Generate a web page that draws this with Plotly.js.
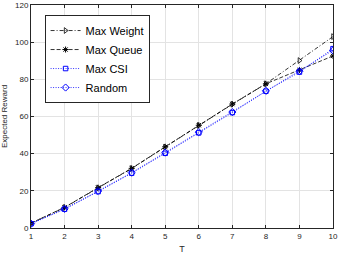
<!DOCTYPE html>
<html>
<head>
<meta charset="utf-8">
<script src="https://cdn.plot.ly/plotly-3.0.1.min.js"></script>
<style>html,body{margin:0;padding:0;background:#fff;}#chart{width:338px;height:254px;}</style>
</head>
<body>
<div id="chart"></div>
<script>
const T = [1, 2, 3, 4, 5, 6, 7, 8, 9, 10];
const maxWeight = [2.6, 11.0, 21.6, 32.0, 43.6, 55.2, 66.6, 77.6, 90.1, 103.0];
const maxQueue  = [2.6, 11.1, 21.7, 32.1, 43.7, 55.3, 66.7, 77.6, 85.0, 92.6];
const maxCSI    = [2.3, 10.1, 19.6, 29.5, 40.2, 51.2, 62.1, 73.6, 83.9, 96.5];
const randomR   = [2.3, 10.3, 19.9, 29.8, 40.6, 51.6, 62.4, 73.8, 84.4, 95.6];

const traces = [
  {x: T, y: maxWeight, name: 'Max Weight', mode: 'lines+markers',
   line: {color: '#000000', width: 0.8, dash: '4px,2px,1px,2px'},
   marker: {symbol: 'triangle-right-open', size: 5, color: '#000000', line: {width: 0.8}}},
  {x: T, y: maxQueue, name: 'Max Queue', mode: 'lines+markers',
   line: {color: '#000000', width: 0.8, dash: '4px,2px'},
   marker: {symbol: 'asterisk-open', size: 5, color: '#000000', line: {width: 1, color: '#000000'}}},
  {x: T, y: maxCSI, name: 'Max CSI', mode: 'lines+markers',
   line: {color: '#0000ff', width: 0.8, dash: '1px,1.5px'},
   marker: {symbol: 'square-open', size: 4.5, color: '#0000ff', line: {width: 1}}},
  {x: T, y: randomR, name: 'Random', mode: 'lines+markers',
   line: {color: '#0000ff', width: 0.8, dash: '1px,1.5px'},
   marker: {symbol: 'diamond-open', size: 5.5, color: '#0000ff', line: {width: 1}}}
];

const axisCommon = {
  showline: true, linecolor: '#262626', linewidth: 1, mirror: 'ticks',
  ticks: 'inside', ticklen: 3, tickcolor: '#262626',
  showgrid: true, gridcolor: '#e3e3e3', gridwidth: 1,
  zeroline: false,
  tickfont: {family: 'Liberation Sans, Arial, sans-serif', size: 8, color: '#262626'}
};

const layout = {
  width: 338, height: 254,
  margin: {l: 31, r: 5, t: 5, b: 26},
  paper_bgcolor: '#ffffff', plot_bgcolor: '#ffffff',
  showlegend: true,
  font: {family: 'Liberation Sans, Arial, sans-serif', color: '#262626'},
  xaxis: Object.assign({}, axisCommon, {
    range: [1, 10], tickvals: T,
    title: {text: 'T', font: {size: 9, color: '#262626'}, standoff: 6}
  }),
  yaxis: Object.assign({}, axisCommon, {
    range: [0, 120], tickvals: [0, 20, 40, 60, 80, 100, 120],
    title: {text: 'Expected Reward', font: {size: 8, color: '#262626'}, standoff: 8}
  }),
  legend: {
    x: 0.045, y: 0.955, xanchor: 'left', yanchor: 'top',
    bgcolor: '#ffffff', bordercolor: '#262626', borderwidth: 1,
    font: {family: 'Liberation Sans, Arial, sans-serif', size: 11, color: '#000000'},
    itemwidth: 30, tracegroupgap: 0
  }
};

Plotly.newPlot('chart', traces, layout, {displayModeBar: false, staticPlot: true});
</script>
</body>
</html>
